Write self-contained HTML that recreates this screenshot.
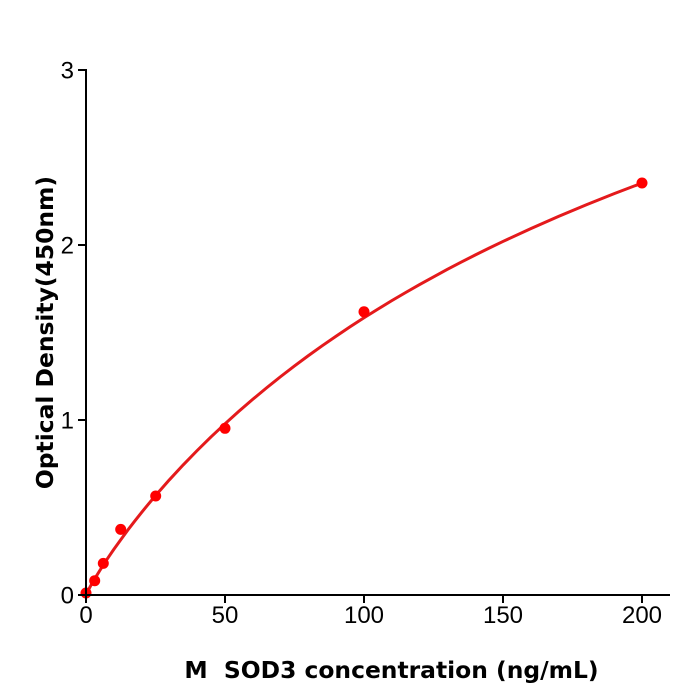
<!DOCTYPE html>
<html>
<head>
<meta charset="utf-8">
<style>
html,body{margin:0;padding:0;background:#fff;}
svg{display:block;}
</style>
</head>
<body>
<svg width="700" height="700" viewBox="0 0 700 700" xmlns="http://www.w3.org/2000/svg">
<rect width="700" height="700" fill="#fff"/>
<!-- curve -->
<polyline fill="none" stroke="#e41a1c" stroke-width="3" stroke-linejoin="round" stroke-linecap="round"
points="86,595 86.7,593.4 87.39,591.96 88.78,589.26 91.56,584.19 94.69,578.81 99.9,570.36 106.85,559.58 113.8,549.38 120.75,539.7 127.7,530.22 134.65,521.2 141.6,512.4 148.55,503.9 155.5,495.6 169.4,479.8 183.3,464.78 197.2,450.5 211.1,436.82 225,423.8 238.9,411.3 252.8,399.3 266.7,387.75 280.6,376.64 294.5,365.94 308.4,355.63 322.3,345.68 336.2,336.1 350.1,326.8 364,317.8 377.9,309.09 391.8,300.65 405.7,292.5 419.6,284.53 433.5,276.9 447.4,269.36 461.3,262.06 475.2,255.0 489.1,248.13 503,241.43 530.8,228.6 558.6,216.35 586.4,204.7 614.2,193.62 642,183.05"/>
<!-- points -->
<g fill="#ff0000">
<circle cx="86" cy="593" r="5.5"/>
<circle cx="94.7" cy="580.7" r="5.5"/>
<circle cx="103.3" cy="563.4" r="5.5"/>
<circle cx="120.7" cy="529.4" r="5.5"/>
<circle cx="155.7" cy="496" r="5.5"/>
<circle cx="225" cy="428.3" r="5.5"/>
<circle cx="364" cy="311.8" r="5.5"/>
<circle cx="642" cy="183" r="5.5"/>
</g>
<!-- axes -->
<g stroke="#000" stroke-width="2" fill="none">
<line x1="86" y1="69" x2="86" y2="596"/>
<line x1="85" y1="595" x2="670" y2="595"/>
<line x1="78" y1="70" x2="86" y2="70"/>
<line x1="78" y1="245" x2="86" y2="245"/>
<line x1="78" y1="420" x2="86" y2="420"/>
<line x1="78" y1="595" x2="86" y2="595"/>
<line x1="86" y1="595" x2="86" y2="603"/>
<line x1="225" y1="595" x2="225" y2="603"/>
<line x1="364" y1="595" x2="364" y2="603"/>
<line x1="503" y1="595" x2="503" y2="603"/>
<line x1="642" y1="595" x2="642" y2="603"/>
</g>
<g font-family="'Liberation Sans', Arial, sans-serif" font-size="24" fill="#000">
<text x="74" y="78.5" text-anchor="end">3</text>
<text x="74" y="253.5" text-anchor="end">2</text>
<text x="74" y="428.5" text-anchor="end">1</text>
<text x="74" y="603.5" text-anchor="end">0</text>
<text x="86" y="623" text-anchor="middle">0</text>
<text x="225" y="623" text-anchor="middle">50</text>
<text x="364" y="623" text-anchor="middle">100</text>
<text x="503" y="623" text-anchor="middle">150</text>
<text x="642" y="623" text-anchor="middle">200</text>
</g>
<g font-family="'DejaVu Sans', 'Liberation Sans', sans-serif" font-size="23.4" font-weight="bold" fill="#000">
<text x="391.5" y="678" text-anchor="middle" xml:space="preserve">M  SOD3 concentration (ng/mL)</text>
<text transform="translate(53,332.5) rotate(-90)" text-anchor="middle">Optical Density(450nm)</text>
</g>
</svg>
</body>
</html>
